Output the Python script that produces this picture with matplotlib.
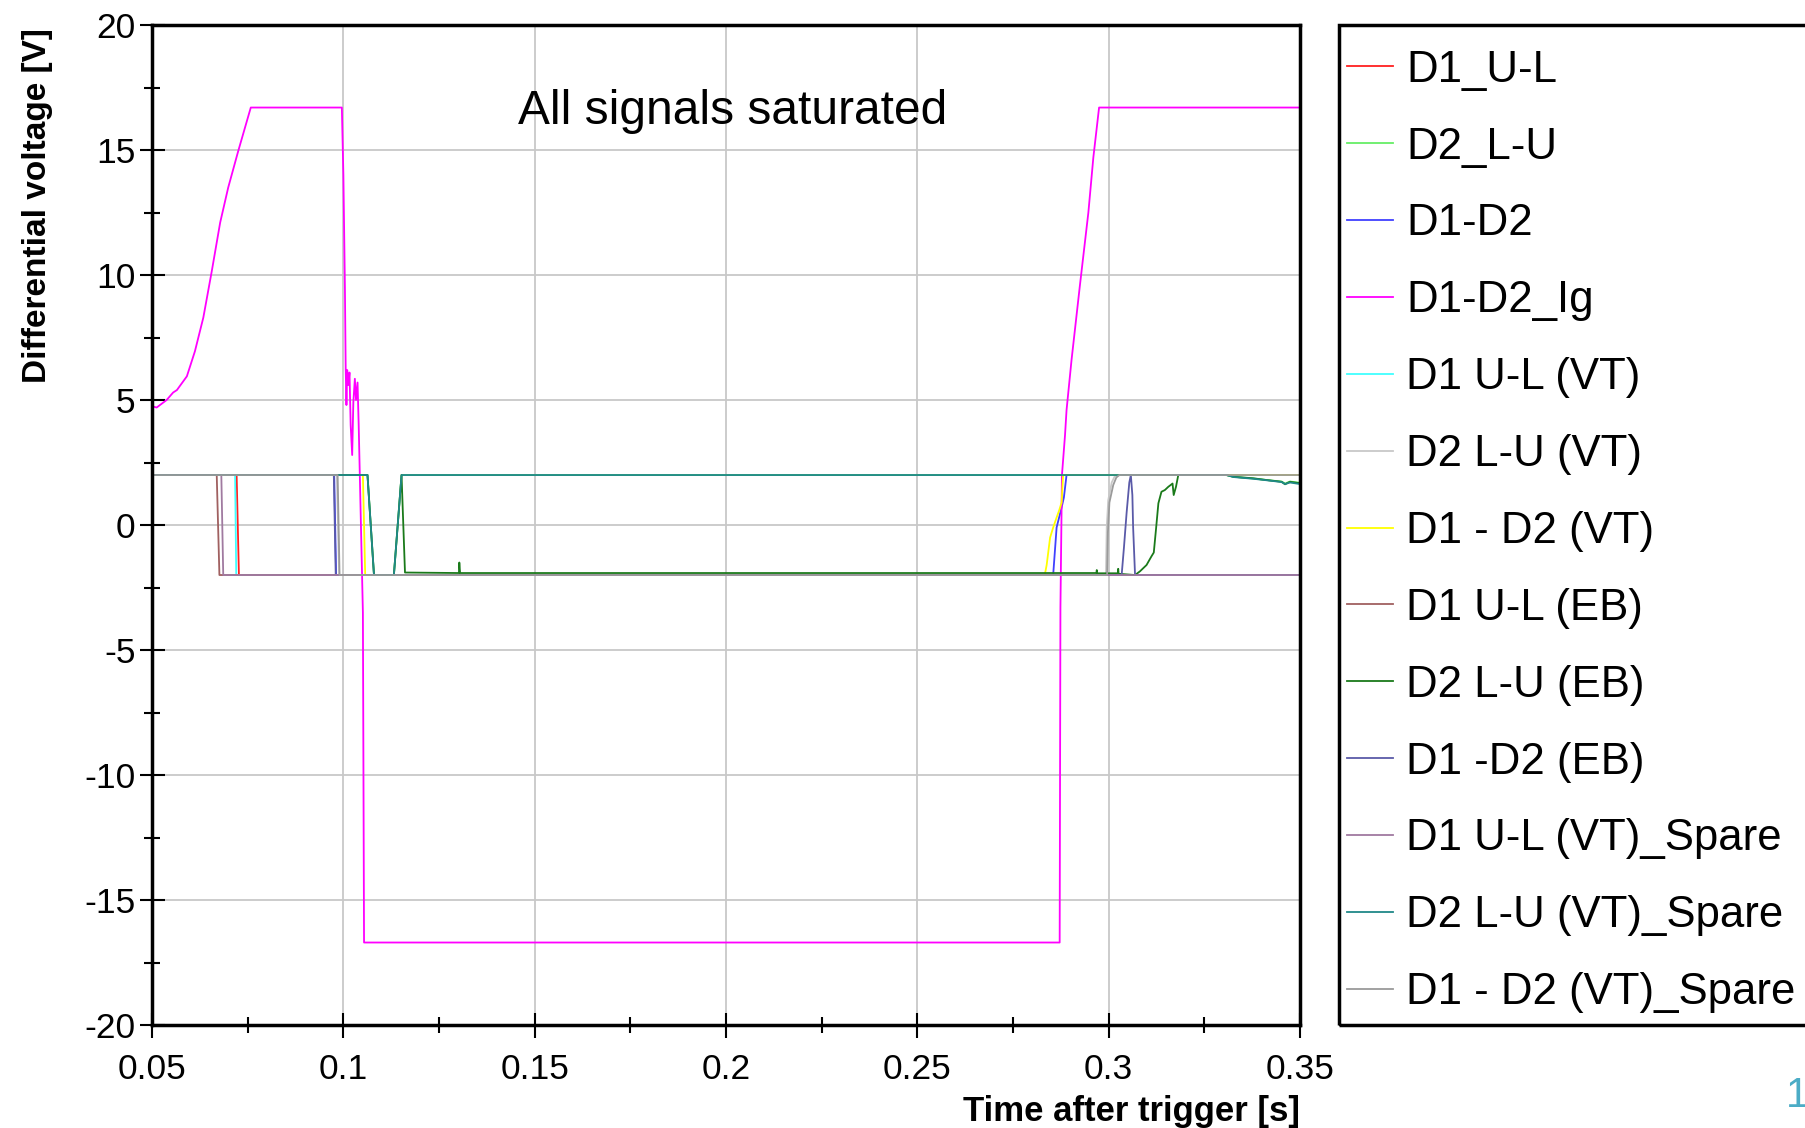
import matplotlib
matplotlib.use("Agg")
import matplotlib.pyplot as plt
from matplotlib.patches import Rectangle
from matplotlib.ticker import MultipleLocator, FixedLocator, FixedFormatter

plt.rcParams['font.family'] = ['Liberation Sans', 'DejaVu Sans']
plt.rcParams['axes.unicode_minus'] = False

# --- data (time [s], voltage [V]) ---
t_d1_ul = [0.05, 0.0721, 0.0727, 0.35]
v_d1_ul = [2, 2, -2, -2]

t_d2_lu = [0.05, 0.1063, 0.1080, 0.1132, 0.1152, 0.3308, 0.3326, 0.3378, 0.3413, 0.3452, 0.3461, 0.3474, 0.35]
v_d2_lu = [2, 2, -2, -2, 2, 2, 1.93, 1.86, 1.8, 1.74, 1.66, 1.74, 1.69]

t_d1d2 = [0.05, 0.0976, 0.0981, 0.2855, 0.2864, 0.2877, 0.2883, 0.2890, 0.35]
v_d1d2 = [2, 2, -2, -2, -0.1, 0.7, 1.1, 2, 2]

t_ig = [0.05, 0.0512, 0.0538, 0.0555, 0.0565, 0.0591, 0.0612, 0.0634, 0.0656,
        0.0678, 0.0699, 0.0725, 0.0758, 0.0996, 0.1000, 0.1004, 0.1006, 0.1008,
        0.1010, 0.1013, 0.1016, 0.1019, 0.1023, 0.1026, 0.1030, 0.1033, 0.1037,
        0.1040, 0.1051, 0.1054, 0.2872, 0.2874, 0.2878, 0.2886, 0.2890, 0.2903,
        0.2925, 0.2947, 0.2960, 0.2975, 0.35]
v_ig = [4.75, 4.7, 5.0, 5.3, 5.4, 5.95, 6.95, 8.3, 10.15,
        12.1, 13.5, 14.95, 16.7, 16.7, 14.0, 9.5, 6.3, 4.8,
        6.2, 5.6, 6.1, 4.0, 2.8, 4.9, 5.85, 5.0, 5.7,
        4.0, -3.5, -16.7, -16.7, -3.3, 2.0, 3.6, 4.6, 6.6,
        9.6, 12.5, 14.7, 16.7, 16.7]

t_d1_ul_vt = [0.05, 0.0717, 0.0720, 0.35]
v_d1_ul_vt = [2, 2, -2, -2]

t_d2_lu_vt = [0.05, 0.0983, 0.0989, 0.2993, 0.2995, 0.2999, 0.3008, 0.3016, 0.3025, 0.35]
v_d2_lu_vt = [2, 2, -2, -2, -0.1, 1.0, 1.7, 1.95, 2, 2]

t_d1d2_vt = [0.05, 0.1051, 0.1057, 0.2833, 0.2838, 0.2847, 0.2855, 0.2864, 0.2871, 0.2877, 0.2881, 0.35]
v_d1d2_vt = [2, 2, -2, -2, -1.6, -0.5, -0.1, 0.3, 0.6, 0.9, 2, 2]

t_d1_ul_eb = [0.05, 0.0669, 0.0676, 0.35]
v_d1_ul_eb = [2, 2, -2, -2]

t_d2_lu_eb = [0.05, 0.1063, 0.1080, 0.1132, 0.1152, 0.1161, 0.1302, 0.1303, 0.1305,
              0.2968, 0.2969, 0.2970, 0.3024, 0.3025, 0.3026, 0.3069,
              0.3082, 0.3099, 0.3112, 0.3118, 0.3124, 0.3130, 0.3138, 0.3147, 0.3156,
              0.3162, 0.3167, 0.3170, 0.3176, 0.3182, 0.3308, 0.3326, 0.3378, 0.3413,
              0.3452, 0.3461, 0.3474, 0.35]
v_d2_lu_eb = [2, 2, -2, -2, 2, -1.9, -1.92, -1.5, -1.92,
              -1.92, -1.8, -1.93, -1.93, -1.75, -1.95, -2,
              -1.85, -1.6, -1.25, -1.1, -0.13, 0.87, 1.33, 1.4, 1.53,
              1.6, 1.66, 1.2, 1.53, 2, 2, 1.93, 1.87, 1.8,
              1.73, 1.63, 1.73, 1.67]

t_d1d2_eb = [0.05, 0.0975, 0.0980, 0.3034, 0.3040, 0.3047, 0.3054, 0.3058, 0.3062, 0.3064, 0.3069, 0.35]
v_d1d2_eb = [2, 2, -2, -2, -0.9, 0.5, 1.7, 2, 1.2, -0.1, -2, -2]

t_d1_ul_vt_sp = [0.05, 0.0681, 0.0686, 0.35]
v_d1_ul_vt_sp = [2, 2, -2, -2]

t_d2_lu_vt_sp = [0.05, 0.1063, 0.1080, 0.1132, 0.1152, 0.3308, 0.3326, 0.3378, 0.3413, 0.3452, 0.3461, 0.3474, 0.35]
v_d2_lu_vt_sp = [2, 2, -2, -2, 2, 2, 1.92, 1.85, 1.79, 1.72, 1.64, 1.7, 1.64]

t_d1d2_vt_sp = [0.05, 0.0985, 0.0990, 0.2996, 0.2998, 0.3002, 0.3012, 0.3020, 0.3028, 0.35]
v_d1d2_vt_sp = [2, 2, -2, -2, -0.3, 0.9, 1.6, 1.9, 2, 2]

labels = ['D1_U-L', 'D2_L-U', 'D1-D2', 'D1-D2_Ig', 'D1 U-L (VT)', 'D2 L-U (VT)',
          'D1 - D2 (VT)', 'D1 U-L (EB)', 'D2 L-U (EB)', 'D1 -D2 (EB)',
          'D1 U-L (VT)_Spare', 'D2 L-U (VT)_Spare', 'D1 - D2 (VT)_Spare']
colors = ['#ff2020', '#66ee66', '#4040ff', '#ff00ff', '#40ffff', '#c8c8c8',
          '#ffff00', '#a06060', '#1a7a1a', '#5a5aa8', '#a07aa0', '#208888', '#9a9a9a']
series = [(t_d1_ul, v_d1_ul), (t_d2_lu, v_d2_lu), (t_d1d2, v_d1d2), (t_ig, v_ig),
          (t_d1_ul_vt, v_d1_ul_vt), (t_d2_lu_vt, v_d2_lu_vt), (t_d1d2_vt, v_d1d2_vt),
          (t_d1_ul_eb, v_d1_ul_eb), (t_d2_lu_eb, v_d2_lu_eb), (t_d1d2_eb, v_d1d2_eb),
          (t_d1_ul_vt_sp, v_d1_ul_vt_sp), (t_d2_lu_vt_sp, v_d2_lu_vt_sp),
          (t_d1d2_vt_sp, v_d1d2_vt_sp)]

xticks = [0.05, 0.1, 0.15, 0.2, 0.25, 0.3, 0.35]
xtick_labels = ['0.05', '0.1', '0.15', '0.2', '0.25', '0.3', '0.35']
yticks = [-20, -15, -10, -5, 0, 5, 10, 15, 20]

fig = plt.figure(figsize=(18.06, 11.28), dpi=100)
ax = fig.add_axes([0.0842, 0.0913, 0.6356, 0.8865])

handles = []
for (t, v), lab, col in zip(series, labels, colors):
    h, = ax.plot(t, v, color=col, lw=1.3, label=lab)
    handles.append(h)

ax.set_xlim(0.05, 0.35)
ax.set_ylim(-20, 20)
ax.xaxis.set_major_locator(FixedLocator(xticks))
ax.xaxis.set_major_formatter(FixedFormatter(xtick_labels))
ax.xaxis.set_minor_locator(MultipleLocator(0.025))
ax.yaxis.set_major_locator(FixedLocator(yticks))
ax.yaxis.set_minor_locator(MultipleLocator(2.5))
ax.grid(True, which='major', color='#c8c8c8', lw=1.3)
ax.set_axisbelow(True)
ax.tick_params(which='major', direction='inout', length=18, width=1.5, labelsize=25.5, color='black')
ax.tick_params(axis='y', which='major', pad=3)
ax.tick_params(axis='x', which='major', pad=11)
ax.tick_params(which='minor', direction='inout', length=11, width=1.5)
for sp in ax.spines.values():
    sp.set_linewidth(2.5)

ax.set_ylabel('Differential voltage [V]', fontsize=24, fontweight='bold')
ax.yaxis.set_label_coords(-0.086, 0.819)
ax.set_xlabel('Time after trigger [s]', fontsize=25, fontweight='bold')
ax.xaxis.set_label_coords(1.0, -0.07)
ax.xaxis.label.set_horizontalalignment('right')

ax.text(0.2018, 16.55, 'All signals saturated', fontsize=34.5, ha='center', va='center')

# legend box runs off the right edge like in the slide
fig.patches.append(Rectangle((0.7414, 0.0913), 0.4, 0.8865, transform=fig.transFigure,
                             fill=False, edgecolor='black', lw=2.5))
fig.legend(handles=handles, labels=labels, loc='upper left', bbox_to_anchor=(0.746, 0.956),
           frameon=False, fontsize=31.5, handlelength=1.05, handletextpad=0.3,
           labelspacing=0.82, borderpad=0, borderaxespad=0)

fig.text(0.989, 0.028, '1', fontsize=30, color='#4bacc6', ha='left', va='center')

plt.savefig('out.png', dpi=100)
